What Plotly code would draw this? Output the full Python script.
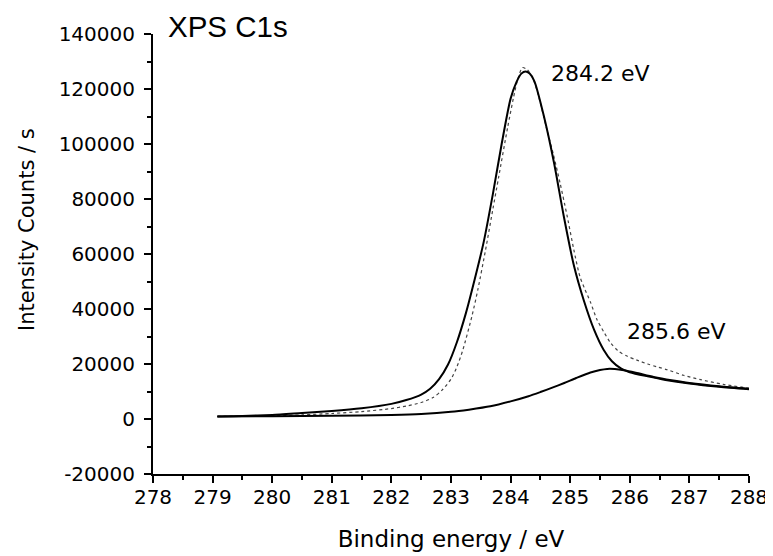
import plotly.graph_objects as go

# XPS C1s spectrum
# measured data (dotted)
data_ev = [279.08, 279.5, 280.0, 280.5, 281.0, 281.5, 282.0, 282.25, 282.5, 282.7,
           282.85, 283.0, 283.1, 283.2, 283.35, 283.45, 283.58, 283.7, 283.8, 283.95,
           284.05, 284.12, 284.2, 284.28, 284.36, 284.45, 284.6, 284.72, 284.83, 284.95,
           285.06, 285.16, 285.24, 285.34, 285.45, 285.56, 285.68, 285.82, 285.96, 286.12,
           286.3, 286.45, 286.63, 286.9, 287.19, 287.57, 288.0]
data_counts = [950, 1000, 1150, 1500, 2000, 2700, 3800, 4700, 6000, 7800,
               10500, 14500, 19000, 25200, 37300, 47000, 61500, 76000, 88000, 106000,
               117000, 123500, 127800, 127000, 124500, 119000, 106000, 96000, 85800, 73700,
               61600, 52000, 47500, 42500, 36100, 31800, 27600, 24500, 22800, 21400,
               20000, 19000, 17900, 15900, 14300, 12600, 11200]

# component at 284.2 eV (with background)
peak1_ev = [279.08, 279.5, 280.0, 280.5, 281.0, 281.5, 282.0, 282.25, 282.5, 282.65,
            282.8, 282.95, 283.1, 283.25, 283.4, 283.55, 283.7, 283.85, 284.0, 284.1,
            284.18, 284.25, 284.32, 284.4, 284.56, 284.73, 284.89, 285.06, 285.23, 285.4,
            285.56, 285.7, 285.85, 286.0, 286.3, 286.6, 287.0, 287.5, 288.0]
peak1_counts = [950, 1100, 1500, 2200, 2900, 3900, 5500, 6900, 8900, 11000,
                14500, 19800, 28000, 38500, 51000, 64500, 81500, 100000, 116500, 122600,
                125600, 126400, 125600, 122800, 110000, 93000, 74000, 56000, 43000, 32500,
                25200, 21000, 18400, 17000, 15500, 14200, 12900, 11700, 10800]

# component at 285.6 eV (with background)
peak2_ev = [279.08, 280.0, 281.0, 282.0, 282.5, 283.0, 283.3, 283.66, 284.0, 284.3,
            284.5, 284.7, 284.9, 285.1, 285.34, 285.5, 285.62, 285.75, 285.9, 286.1,
            286.4, 286.7, 287.0, 287.5, 288.0]
peak2_counts = [950, 1000, 1150, 1450, 1800, 2600, 3400, 4600, 6400, 8300,
                9800, 11400, 13100, 14900, 16900, 17800, 18200, 18150, 17700, 16800,
                15300, 14100, 13100, 11900, 11000]

x_ticks = [278, 279, 280, 281, 282, 283, 284, 285, 286, 287, 288]
x_tick_labels = ["278", "279", "280", "281", "282", "283", "284", "285", "286", "287", "288"]
y_ticks = [-20000, 0, 20000, 40000, 60000, 80000, 100000, 120000, 140000]
y_tick_labels = ["-20000", "0", "20000", "40000", "60000", "80000", "100000", "120000", "140000"]

FONT = "DejaVu Sans"

fig = go.Figure()
fig.add_trace(go.Scatter(
    x=data_ev, y=data_counts, mode="lines",
    line=dict(color="#444444", width=1.2, dash="dot", shape="spline", smoothing=0.7),
    name="data",
))
fig.add_trace(go.Scatter(
    x=peak1_ev, y=peak1_counts, mode="lines",
    line=dict(color="black", width=2, shape="spline", smoothing=0.7),
    name="284.2 eV",
))
fig.add_trace(go.Scatter(
    x=peak2_ev, y=peak2_counts, mode="lines",
    line=dict(color="black", width=2, shape="spline", smoothing=0.7),
    name="285.6 eV",
))

# peak labels
fig.add_annotation(x=284.65, y=125500, xref="x", yref="y", text="284.2 eV",
                   xanchor="left", yanchor="middle", showarrow=False,
                   font=dict(family=FONT, size=22, color="black"))
fig.add_annotation(x=285.92, y=31800, xref="x", yref="y", text="285.6 eV",
                   xanchor="left", yanchor="middle", showarrow=False,
                   font=dict(family=FONT, size=22, color="black"))
# chart title sits just right of the y axis, above the plot
fig.add_annotation(x=0.022, y=1.017, xref="paper", yref="paper", text="XPS C1s",
                   xanchor="left", yanchor="middle", showarrow=False,
                   font=dict(family="Liberation Sans", size=29.5, color="black"))
# y axis title, a little above the centre like the original
fig.add_annotation(x=-0.211, y=0.555, xref="paper", yref="paper",
                   text="Intensity Counts / s", textangle=-90,
                   xanchor="center", yanchor="middle", showarrow=False,
                   font=dict(family=FONT, size=21, color="black"))

axis_common = dict(
    showline=True, linecolor="black", linewidth=2, mirror=False,
    showgrid=False, zeroline=False, automargin=False,
    ticks="outside", ticklen=7, tickwidth=1.5, tickcolor="black",
    tickfont=dict(family=FONT, size=20, color="black"),
)

fig.update_xaxes(
    range=[278, 288], tickmode="array", tickvals=x_ticks, ticktext=x_tick_labels,
    minor=dict(dtick=0.5, tick0=278, ticklen=4, tickwidth=1.5, tickcolor="black", ticks="outside"),
    title=dict(text="Binding energy / eV", font=dict(family=FONT, size=23, color="black"),
               standoff=23),
    ticklabelstandoff=-3,
    **axis_common,
)
fig.update_yaxes(
    range=[-20000, 140000], tickmode="array", tickvals=y_ticks, ticktext=y_tick_labels,
    minor=dict(dtick=10000, tick0=0, ticklen=4, tickwidth=1.5, tickcolor="black", ticks="outside"),
    ticklabelstandoff=5,
    **axis_common,
)

# the page body adds an 8px margin, so the figure is 8px smaller than the window
fig.update_layout(
    width=765, height=548,
    margin=dict(l=144.5, r=24.3, t=26.3, b=81.7),
    paper_bgcolor="white", plot_bgcolor="white",
    showlegend=False,
    font=dict(family=FONT, color="black"),
)

fig.write_html("out.html")
